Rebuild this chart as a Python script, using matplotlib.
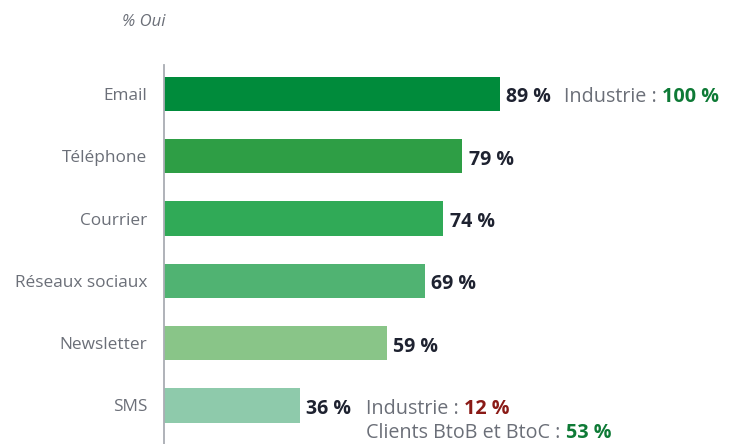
import matplotlib.pyplot as plt

plt.rcParams['font.family'] = ['Open Sans', 'DejaVu Sans']

canaux = ['Email', 'Téléphone', 'Courrier', 'Réseaux sociaux', 'Newsletter', 'SMS']
valeurs = [89, 79, 74, 69, 59, 36]
couleurs = ['#008B3B', '#2E9E45', '#30AA57', '#50B372', '#89C588', '#8ECAAB']

industrie_email = 100
industrie_sms = 12
clients_sms = 53

GRIS = '#6B6F78'
NOIR = '#1E2230'
VERT = '#0E7A36'
ROUGE = '#8A1A16'

fig = plt.figure(figsize=(7.39, 4.44), dpi=100)
ax = fig.add_axes([164 / 739, 0, 575 / 739, 1 - 65 / 444])

pos = list(range(len(canaux)))
ax.barh(pos, valeurs, height=0.55, color=couleurs)
ax.set_xlim(0, 575 / 3.776)
ax.set_ylim(5.62, -0.465)

for s in ['top', 'right', 'bottom']:
    ax.spines[s].set_visible(False)
ax.spines['left'].set_color('#A9ADB3')
ax.spines['left'].set_linewidth(1.3)
ax.set_xticks([])
ax.set_yticks(pos)
ax.set_yticklabels(canaux, fontsize=12.4, color=GRIS)
ax.tick_params(axis='y', length=0, pad=12)

etiquettes = []
for i, v in enumerate(valeurs):
    t = ax.annotate(f'{v} %', xy=(v, i), xytext=(4.5, -2.5), textcoords='offset points',
                    ha='left', va='center', fontsize=14, fontweight='bold', color=NOIR)
    etiquettes.append(t)


def suite(prev, txt, color, weight='normal', dx=0):
    return ax.annotate(txt, xy=(1, 0), xycoords=prev, xytext=(dx, 0),
                       textcoords='offset points', ha='left', va='bottom',
                       fontsize=14.2, color=color, fontweight=weight,
                       annotation_clip=False)


# Email : comparaison industrie
a = suite(etiquettes[0], 'Industrie : ', GRIS, dx=9)
suite(a, f'{industrie_email} %', VERT, 'bold')

# SMS : comparaisons
b = suite(etiquettes[5], 'Industrie : ', GRIS, dx=11)
suite(b, f'{industrie_sms} %', ROUGE, 'bold')
c = ax.annotate('Clients BtoB et BtoC : ', xy=(0, 0), xycoords=b, xytext=(0, -17.5),
                textcoords='offset points', ha='left', va='bottom',
                fontsize=14.2, color=GRIS, annotation_clip=False)
suite(c, f'{clients_sms} %', VERT, 'bold')

fig.text(144 / 739, 1 - 22 / 444, '% Oui', ha='center', va='center',
         fontsize=12, style='italic', color=GRIS)

fig.savefig('out.png', dpi=100)
